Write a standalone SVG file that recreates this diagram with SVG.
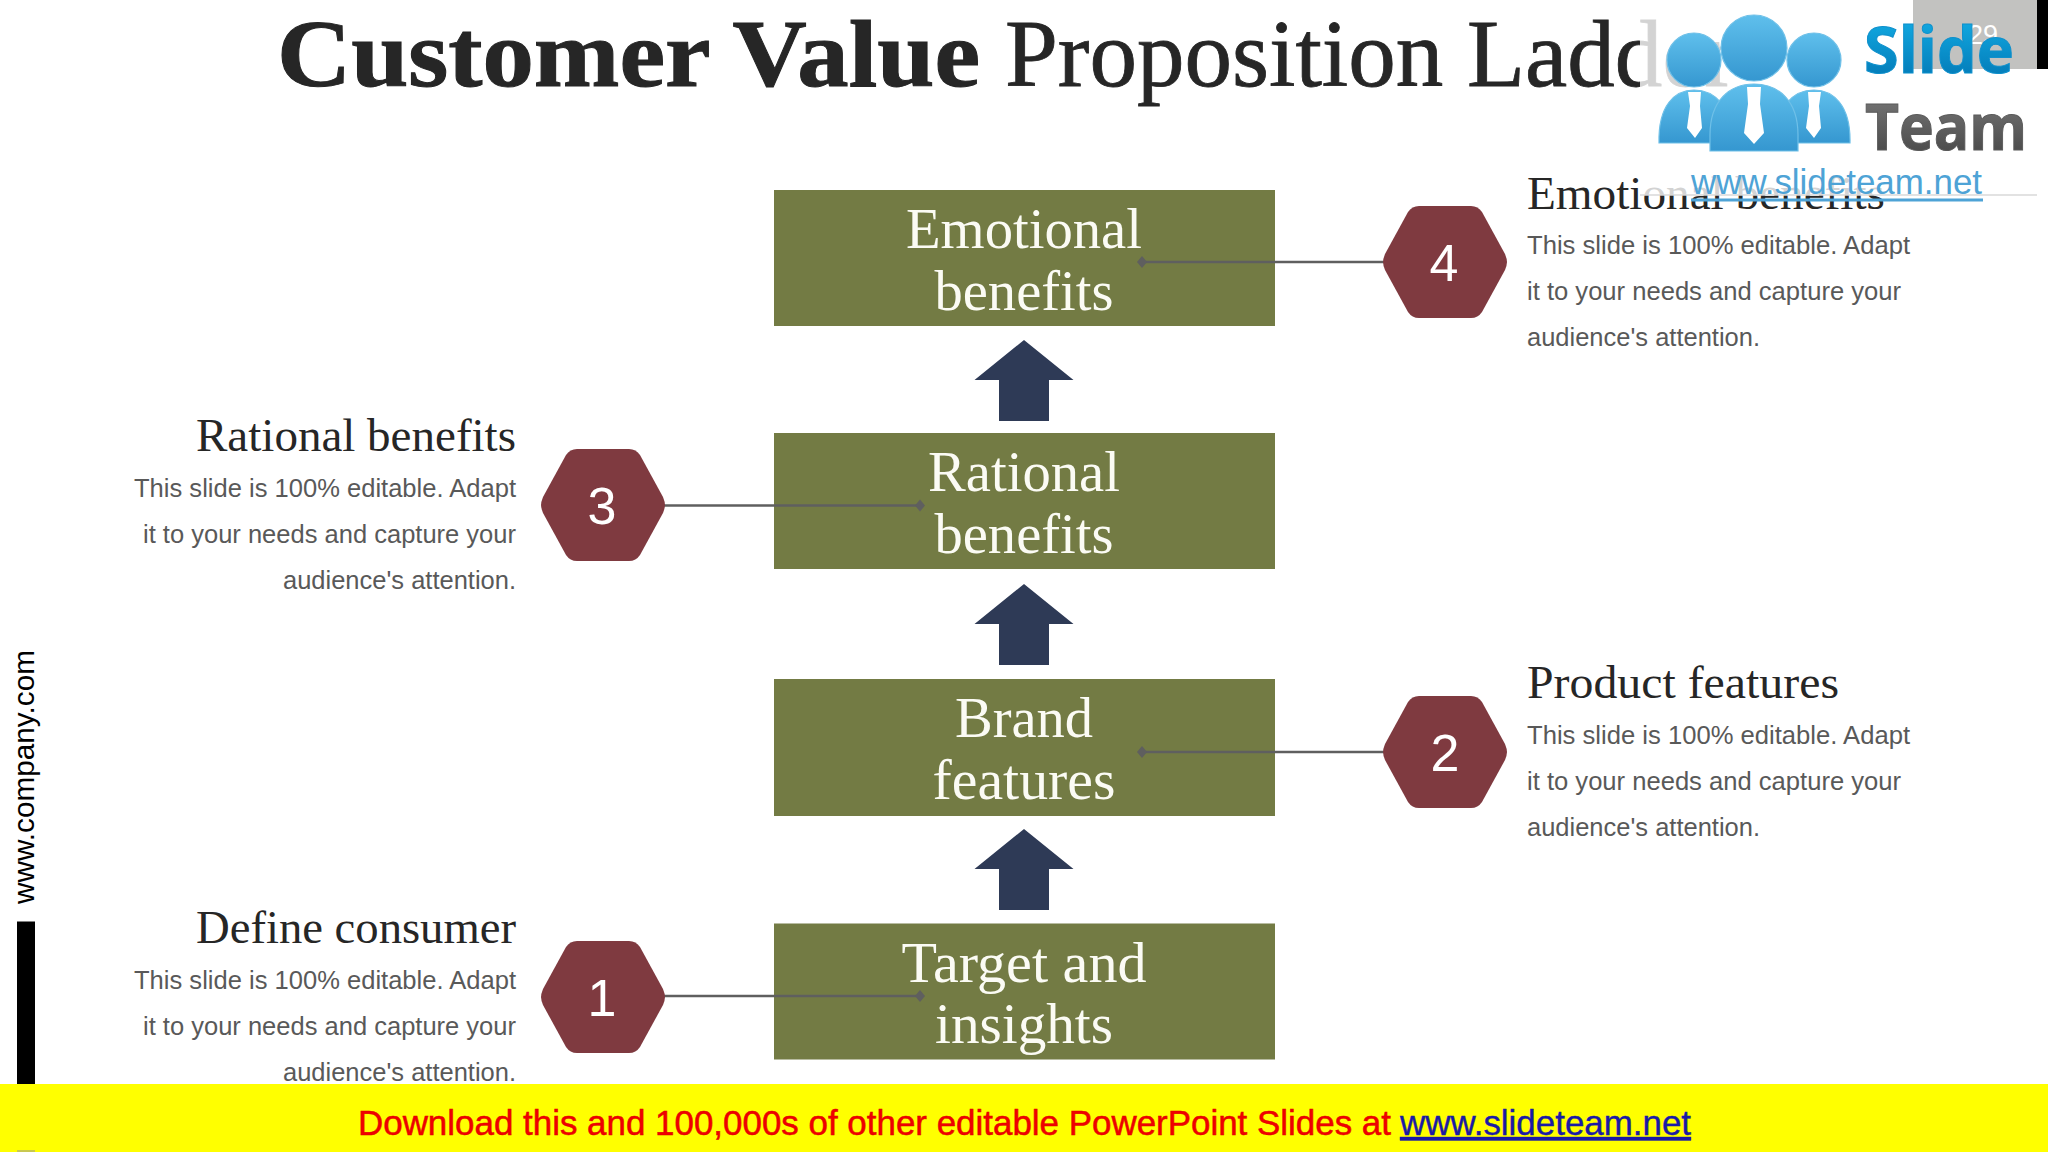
<svg xmlns="http://www.w3.org/2000/svg" width="2048" height="1152" viewBox="0 0 2048 1152">
<style>
.serif{font-family:"Liberation Serif","DejaVu Serif",serif}
.sans{font-family:"Liberation Sans",Arial,sans-serif}
.box{fill:#737b44}
.boxt{font-size:56px;fill:#fbfbf4;text-anchor:middle}
.arrow{fill:#2e3a56}
.hex{fill:#7f3a40}
.num{font-size:52px;fill:#fff;text-anchor:middle}
.head{font-size:46px;fill:#262626}
.body{font-size:26px;fill:#595959}
.conn{stroke:#5f5f5f;stroke-width:2.500;fill:none}
.dot{fill:#5f5f5f}
.logo{fill:url(#blue);stroke:#6fc0e8;stroke-width:1.200}
.tie{fill:#fff}
</style>
<defs>
<path id="hexshape" class="hex" d="M-62,0 Q-62,-3 -60,-8 L-37,-50 Q-33,-56 -26,-56 L26,-56 Q33,-56 37,-50 L60,-8 Q62,-3 62,0 Q62,3 60,8 L37,50 Q33,56 26,56 L-26,56 Q-33,56 -37,50 L-60,8 Q-62,3 -62,0 Z"/>
<polygon id="arrowshape" class="arrow" points="0,0 49.500,40 25,40 25,81 -25,81 -25,40 -49.500,40"/>
<polygon id="diamond" class="dot" points="-5,0 0,-6 5,0 0,6"/>
<linearGradient id="blue" x1="0" y1="0" x2="0" y2="1"><stop offset="0" stop-color="#5fbfec"/><stop offset="1" stop-color="#3597d0"/></linearGradient>
<linearGradient id="slide" x1="0" y1="0" x2="0" y2="1"><stop offset="0" stop-color="#15b5ec"/><stop offset="1" stop-color="#0070ae"/></linearGradient>
<linearGradient id="team" x1="0" y1="0" x2="0" y2="1"><stop offset="0" stop-color="#808080"/><stop offset="1" stop-color="#3f3f3f"/></linearGradient>
</defs>
<rect width="2048" height="1152" fill="#fff"/>

<g id="title" class="serif" font-size="96" fill="#262626" stroke="#262626">
<text x="277" y="86" font-weight="bold" stroke-width="1" textLength="703" lengthAdjust="spacingAndGlyphs">Customer Value</text>
<text x="1005" y="86" stroke-width="0.800" textLength="731" lengthAdjust="spacingAndGlyphs">Proposition Ladder</text>
</g>

<g id="box-emotional">
<rect class="box" x="774" y="190" width="501" height="136"/>
<text class="serif boxt" x="1024" y="248" textLength="236" lengthAdjust="spacingAndGlyphs">Emotional</text>
<text class="serif boxt" x="1024" y="310" textLength="179" lengthAdjust="spacingAndGlyphs">benefits</text>
</g>
<g id="box-rational">
<rect class="box" x="774" y="433" width="501" height="136"/>
<text class="serif boxt" x="1024" y="491" textLength="192" lengthAdjust="spacingAndGlyphs">Rational</text>
<text class="serif boxt" x="1024" y="553" textLength="179" lengthAdjust="spacingAndGlyphs">benefits</text>
</g>
<g id="box-brand">
<rect class="box" x="774" y="679" width="501" height="137"/>
<text class="serif boxt" x="1024" y="737" textLength="138" lengthAdjust="spacingAndGlyphs">Brand</text>
<text class="serif boxt" x="1024" y="799" textLength="183" lengthAdjust="spacingAndGlyphs">features</text>
</g>
<g id="box-target">
<rect class="box" x="774" y="923.500" width="501" height="136"/>
<text class="serif boxt" x="1024" y="982" textLength="245" lengthAdjust="spacingAndGlyphs">Target and</text>
<text class="serif boxt" x="1024" y="1043" textLength="178" lengthAdjust="spacingAndGlyphs">insights</text>
</g>

<g id="connectors">
<line class="conn" x1="1142" y1="262" x2="1384" y2="262"/><use href="#diamond" x="1142" y="262"/>
<line class="conn" x1="664" y1="505.500" x2="920" y2="505.500"/><use href="#diamond" x="920" y="505.500"/>
<line class="conn" x1="1142" y1="752" x2="1384" y2="752"/><use href="#diamond" x="1142" y="752"/>
<line class="conn" x1="664" y1="996" x2="920" y2="996"/><use href="#diamond" x="920" y="996"/>
<use href="#arrowshape" x="1024" y="340"/>
<use href="#arrowshape" x="1024" y="584"/>
<use href="#arrowshape" x="1024" y="829"/>
</g>

<g id="hex-1"><use href="#hexshape" x="603" y="997"/><text class="sans num" x="602" y="1016">1</text></g>
<g id="hex-2"><use href="#hexshape" x="1445" y="752"/><text class="sans num" x="1445" y="771">2</text></g>
<g id="hex-3"><use href="#hexshape" x="603" y="505"/><text class="sans num" x="602" y="524">3</text></g>
<g id="hex-4"><use href="#hexshape" x="1445" y="262"/><text class="sans num" x="1444" y="281">4</text></g>

<g id="note-4">
<text class="serif head" x="1527" y="209" textLength="358" lengthAdjust="spacingAndGlyphs">Emotional benefits</text>
<text class="sans body" x="1527" y="254" textLength="383" lengthAdjust="spacingAndGlyphs">This slide is 100% editable. Adapt</text>
<text class="sans body" x="1527" y="300" textLength="374" lengthAdjust="spacingAndGlyphs">it to your needs and capture your</text>
<text class="sans body" x="1527" y="346" textLength="233" lengthAdjust="spacingAndGlyphs">audience's attention.</text>
</g>
<g id="note-2">
<text class="serif head" x="1527" y="698" textLength="312" lengthAdjust="spacingAndGlyphs">Product features</text>
<text class="sans body" x="1527" y="744" textLength="383" lengthAdjust="spacingAndGlyphs">This slide is 100% editable. Adapt</text>
<text class="sans body" x="1527" y="790" textLength="374" lengthAdjust="spacingAndGlyphs">it to your needs and capture your</text>
<text class="sans body" x="1527" y="836" textLength="233" lengthAdjust="spacingAndGlyphs">audience's attention.</text>
</g>
<g id="note-3">
<text class="serif head" x="196" y="451" textLength="320" lengthAdjust="spacingAndGlyphs">Rational benefits</text>
<text class="sans body" x="134" y="497" textLength="382" lengthAdjust="spacingAndGlyphs">This slide is 100% editable. Adapt</text>
<text class="sans body" x="143" y="543" textLength="373" lengthAdjust="spacingAndGlyphs">it to your needs and capture your</text>
<text class="sans body" x="283" y="589" textLength="233" lengthAdjust="spacingAndGlyphs">audience's attention.</text>
</g>
<g id="note-1">
<text class="serif head" x="196" y="943" textLength="320" lengthAdjust="spacingAndGlyphs">Define consumer</text>
<text class="sans body" x="134" y="989" textLength="382" lengthAdjust="spacingAndGlyphs">This slide is 100% editable. Adapt</text>
<text class="sans body" x="143" y="1035" textLength="373" lengthAdjust="spacingAndGlyphs">it to your needs and capture your</text>
<text class="sans body" x="283" y="1081" textLength="233" lengthAdjust="spacingAndGlyphs">audience's attention.</text>
</g>

<g id="side">
<text class="sans" font-size="29" fill="#000" transform="translate(34,904) rotate(-90)" textLength="254" lengthAdjust="spacingAndGlyphs">www.company.com</text>
<rect x="17" y="921.500" width="18" height="165" fill="#000"/>
</g>

<g id="watermark">
<rect x="1640" y="0" width="408" height="195" fill="#fff" fill-opacity="0.8"/>
<line x1="1640" y1="195" x2="2037" y2="195" stroke="#d9d9d9" stroke-width="1.500"/>
<rect x="1913" y="0" width="124" height="69" fill="#c2c2c0"/>
<rect x="2037" y="0" width="11" height="69" fill="#000"/>
<text class="sans" x="1983" y="44" font-size="27" fill="#fff" text-anchor="middle">29</text>
<path class="logo" d="M1659,143 C1658,105 1675,90 1694,90 C1714,90 1732,105 1732,143 Z"/>
<path class="logo" d="M1776,143 C1776,105 1794,90 1814,90 C1833,90 1851,105 1850,143 Z"/>
<circle class="logo" cx="1694" cy="60" r="27"/>
<circle class="logo" cx="1814" cy="60" r="27"/>
<path class="logo" d="M1710,151 L1710,135 C1710,100 1730,84 1754,84 C1778,84 1798,100 1798,135 L1798,151 Z"/>
<circle class="logo" cx="1754" cy="48" r="33"/>
<polygon class="tie" points="1688,92 1701,92 1700,106 1702,128 1695,138 1687,128 1690,106"/>
<polygon class="tie" points="1747,87 1761,87 1760,104 1764,133 1754,144 1744,133 1748,104"/>
<polygon class="tie" points="1808,92 1821,92 1819,106 1821,128 1814,138 1806,128 1809,106"/>
<text x="1864" y="73" font-family="'Open Sans','Noto Sans',sans-serif" font-weight="700" font-size="65" fill="url(#slide)" stroke="#0f90cc" stroke-width="1" textLength="150" lengthAdjust="spacingAndGlyphs">Slide</text>
<text x="1865" y="150" font-family="'Open Sans','Noto Sans',sans-serif" font-weight="700" font-size="64" fill="url(#team)" stroke="#5a5a5a" stroke-width="1" textLength="162" lengthAdjust="spacingAndGlyphs">Team</text>
<text class="sans" x="1691" y="194" font-size="34.700" fill="#4ea3d6" textLength="291" lengthAdjust="spacingAndGlyphs">www.slideteam.net</text>
<rect x="1691" y="198.500" width="292" height="3" fill="#4ea3d6"/>
</g>

<g id="banner">
<rect x="0" y="1084" width="2048" height="68" fill="#ffff00"/>
<rect x="17" y="1150" width="18" height="2" fill="#c8c850"/>
<text class="sans" x="358" y="1135" font-size="35" fill="#f00000" stroke="#e00000" stroke-width="0.500" textLength="1033" lengthAdjust="spacingAndGlyphs">Download this and 100,000s of other editable PowerPoint Slides at</text>
<text class="sans" x="1400" y="1135" font-size="35" fill="#1a1aa6" stroke="#1a1aa6" stroke-width="0.400" text-decoration="underline" textLength="291" lengthAdjust="spacingAndGlyphs">www.slideteam.net</text>
</g>
</svg>
